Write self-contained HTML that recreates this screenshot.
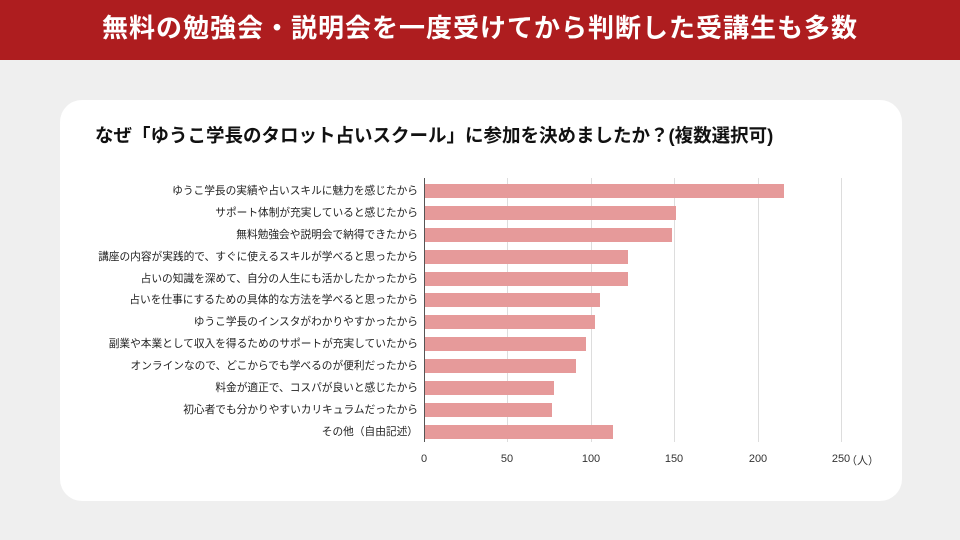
<!DOCTYPE html>
<html><head><meta charset="utf-8"><style>
*{margin:0;padding:0;box-sizing:border-box}
body{width:960px;height:540px;background:#efefef;font-family:"Liberation Sans","Noto Sans CJK JP",sans-serif;position:relative;overflow:hidden}
.hdr{position:absolute;left:0;top:0;width:960px;height:60px;background:#ae1d1f;color:#fff;font-weight:bold;font-size:26px;text-align:center;line-height:56px;letter-spacing:1px}
.card{position:absolute;left:60px;top:100px;width:842px;height:401px;background:#fff;border-radius:22px}
.ttl{position:absolute;left:95px;top:122px;font-size:18.5px;font-weight:bold;color:#111;white-space:nowrap}
.lbl{position:absolute;right:542px;font-size:10.7px;color:#222;white-space:nowrap;line-height:14px}
.bar{position:absolute;left:425px;height:14px;background:#e69a9a}
.grid{position:absolute;top:178px;width:1px;height:264px;background:#ddd}
.tk{position:absolute;top:453px;font-size:11px;color:#333;transform:translateX(-50%)}
</style></head><body>
<div class="hdr">無料の勉強会・説明会を一度受けてから判断した受講生も多数</div>
<div class="card"></div>
<div class="ttl">なぜ「ゆうこ学長のタロット占いスクール」に参加を決めましたか？(複数選択可)</div>
<div class="grid" style="left:507px"></div>
<div class="grid" style="left:591px"></div>
<div class="grid" style="left:674px"></div>
<div class="grid" style="left:758px"></div>
<div class="grid" style="left:841px"></div>
<div style="position:absolute;left:424px;top:178px;width:1px;height:264px;background:#555"></div>
<div class="bar" style="top:184px;width:359px"></div><div class="lbl" style="top:184px">ゆうこ学長の実績や占いスキルに魅力を感じたから</div>
<div class="bar" style="top:206px;width:251px"></div><div class="lbl" style="top:206px">サポート体制が充実していると感じたから</div>
<div class="bar" style="top:228px;width:247px"></div><div class="lbl" style="top:228px">無料勉強会や説明会で納得できたから</div>
<div class="bar" style="top:250px;width:203px"></div><div class="lbl" style="top:250px">講座の内容が実践的で、すぐに使えるスキルが学べると思ったから</div>
<div class="bar" style="top:272px;width:203px"></div><div class="lbl" style="top:272px">占いの知識を深めて、自分の人生にも活かしたかったから</div>
<div class="bar" style="top:293px;width:175px"></div><div class="lbl" style="top:293px">占いを仕事にするための具体的な方法を学べると思ったから</div>
<div class="bar" style="top:315px;width:170px"></div><div class="lbl" style="top:315px">ゆうこ学長のインスタがわかりやすかったから</div>
<div class="bar" style="top:337px;width:161px"></div><div class="lbl" style="top:337px">副業や本業として収入を得るためのサポートが充実していたから</div>
<div class="bar" style="top:359px;width:151px"></div><div class="lbl" style="top:359px">オンラインなので、どこからでも学べるのが便利だったから</div>
<div class="bar" style="top:381px;width:129px"></div><div class="lbl" style="top:381px">料金が適正で、コスパが良いと感じたから</div>
<div class="bar" style="top:403px;width:127px"></div><div class="lbl" style="top:403px">初心者でも分かりやすいカリキュラムだったから</div>
<div class="bar" style="top:425px;width:188px"></div><div class="lbl" style="top:425px">その他（自由記述）</div>
<div class="tk" style="left:424px">0</div>
<div class="tk" style="left:507px">50</div>
<div class="tk" style="left:591px">100</div>
<div class="tk" style="left:674px">150</div>
<div class="tk" style="left:758px">200</div>
<div class="tk" style="left:841px">250</div>
<div style="position:absolute;left:846px;top:452px;font-size:11px;color:#333">（人）</div>
</body></html>
